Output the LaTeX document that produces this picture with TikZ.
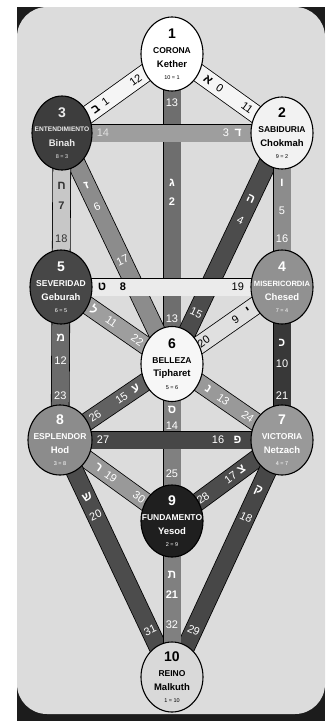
\documentclass[tikz,border=0pt]{standalone}
\usepackage{fontspec}
\setmainfont{Liberation Sans}
\newfontfamily\hebfont[Script=Hebrew]{Liberation Sans}
\usetikzlibrary{shapes.geometric}
\pgfdeclarelayer{back}\pgfdeclarelayer{bars}
\pgfsetlayers{back,bars,main}
\definecolor{pagebg}{HTML}{DCDCDC}
\definecolor{frame}{HTML}{1C1C1C}
\newcommand\fs[1]{\fontsize{#1}{#1}\selectfont}
\tikzset{
  sefira/.style={ellipse, draw=black, line width=1.1pt, inner sep=0pt, fill=#1},
  bar/.style={draw=black, line width=0.8pt, double=#1, double distance=17pt},
  bnum/.style={text=#1, font=\fs{11}, inner sep=0pt},
  bheb/.style={text=#1, font=\fs{12}\hebfont\bfseries, inner sep=0pt},
  snum/.style={text=#1, font=\fs{14}\bfseries, inner sep=0pt},
  stitle/.style={text=#1, font=\fs{8.5}\bfseries, inner sep=0pt},
  sname/.style={text=#1, font=\fs{9.5}\bfseries, inner sep=0pt},
  seq/.style={text=#1, font=\fs{5.5}, inner sep=0pt},
}
% \sefira{id}{position}{size options}{fill}{text}{num}{title}{name}{eq}
\newcommand\sefira[9]{%
  \node[sefira=#4, #3] (#1) at #2 {};
  \node[snum=#5] (#1-n) at ([yshift=20pt]#1.center) {#6};
  \node[stitle=#5] (#1-t) at ([yshift=3.5pt]#1.center) {#7};
  \node[sname=#5] (#1-h) at ([yshift=-10pt]#1.center) {#8};
  \node[seq=#5] (#1-e) at ([yshift=-24pt]#1.center) {#9};
}
\begin{document}
\begin{tikzpicture}[x=1pt,y=-1pt]
\useasboundingbox (0,0) rectangle (325,721);
\begin{pgfonlayer}{back}
  \fill[white] (0,0) rectangle (325,721);
  \fill[frame] (17,7) rectangle (325,721);
  \fill[pagebg, rounded corners=30pt] (17,7) rectangle (325,714);
\end{pgfonlayer}

\sefira{s1}{(172,54)}{minimum width=62pt, minimum height=74pt}{white}{black}{1}{CORONA}{Kether}{10 = 1}
\sefira{s2}{(282,133)}{minimum width=62pt, minimum height=72pt}{black!5}{black}{2}{SABIDURIA}{Chokmah}{9 = 2}
\sefira{s3}{(62,133)}{minimum width=60pt, minimum height=74pt}{black!76}{black!8}{3}{{\fs{6.6}ENTENDIMIENTO}}{Binah}{8 = 3}
\sefira{s4}{(282,287)}{minimum width=62pt, minimum height=74pt}{black!43}{white}{4}{{\fs{7.6}MISERICORDIA}}{Chesed}{7 = 4}
\sefira{s5}{(61,287)}{minimum width=62pt, minimum height=74pt}{black!72}{white}{5}{SEVERIDAD}{Geburah}{6 = 5}
\sefira{s6}{(172,364)}{minimum width=62pt, minimum height=75pt}{black!3}{black}{6}{BELLEZA}{Tipharet}{5 = 6}
\sefira{s7}{(282,440)}{minimum width=62pt, minimum height=70pt}{black!40}{white}{7}{VICTORIA}{Netzach}{4 = 7}
\sefira{s8}{(60,440)}{minimum width=64pt, minimum height=70pt}{black!45}{white}{8}{ESPLENDOR}{Hod}{3 = 8}
\sefira{s9}{(172,521)}{minimum width=62pt, minimum height=72pt}{black!88}{white}{9}{FUNDAMENTO}{Yesod}{2 = 9}
\sefira{s10}{(172,677)}{minimum width=62pt, minimum height=70pt}{black!15}{black}{10}{REINO}{Malkuth}{1 = 10}

\begin{pgfonlayer}{bars}
% diagonal and vertical paths
\draw[bar=black!57] (s1.center) -- (s6.center)
  node[bnum=white, pos=0.157] (p13a) {13}
  node[bheb=white, pos=0.415] (p13h) {ג}
  node[bnum=white, pos=0.475, font=\fs{11}\bfseries] (p13i) {2}
  node[bnum=white, pos=0.855] (p13b) {13};
\draw[bar=black!70] (s2.center) -- (s6.center)
  node[bheb=white, pos=0.284, rotate=-25] (p15h) {ה}
  node[bnum=white, pos=0.378, rotate=-25] (p15i) {4}
  node[bnum=white, pos=0.78, rotate=-25] (p15b) {15};
\draw[bar=black!45] (s2.center) -- (s4.center)
  node[bheb=white, pos=0.327] (p16h) {ו}
  node[bnum=white, pos=0.503] (p16i) {5}
  node[bnum=white, pos=0.686] (p16b) {16};
\draw[bar=black!45] (s3.center) -- (s6.center)
  node[bheb=white, pos=0.224, rotate=25] (p17h) {ז}
  node[bnum=white, pos=0.318, rotate=25] (p17i) {6}
  node[bnum=white, pos=0.55, rotate=25] (p17b) {17};
\draw[bar=black!22] (s3.center) -- (s5.center)
  node[bheb=black!80, pos=0.34] (p18h) {ח}
  node[bnum=black!80, pos=0.47, font=\fs{11}\bfseries] (p18i) {7}
  node[bnum=black!80, pos=0.686] (p18b) {18};
\draw[bar=black!12] (s4.center) -- (s6.center)
  node[bheb=black, pos=0.307, sloped] (p20h) {י}
  node[bnum=black, pos=0.423, sloped] (p20i) {9}
  node[bnum=black, pos=0.712, sloped] (p20b) {20};
\draw[bar=black!78] (s4.center) -- (s7.center)
  node[bheb=white, pos=0.364] (p21h) {כ}
  node[bnum=white, pos=0.5] (p21i) {10}
  node[bnum=white, pos=0.708] (p21b) {21};
\draw[bar=black!38] (s5.center) -- (s6.center)
  node[bheb=white, pos=0.299, sloped] (p22h) {ל}
  node[bnum=white, pos=0.454, sloped] (p22i) {11}
  node[bnum=white, pos=0.687, sloped] (p22b) {22};
\draw[bar=black!58] (s5.center) -- (s8.center)
  node[bheb=white, pos=0.331] (p23h) {מ}
  node[bnum=white, pos=0.48] (p23i) {12}
  node[bnum=white, pos=0.708] (p23b) {23};
\draw[bar=black!40] (s6.center) -- (s7.center)
  node[bheb=white, pos=0.33, sloped] (p24h) {נ}
  node[bnum=white, pos=0.466, sloped] (p24i) {13}
  node[bnum=white, pos=0.69, sloped] (p24b) {24};
\draw[bar=black!50] (s6.center) -- (s9.center)
  node[bheb=white, pos=0.29] (p25h) {ס}
  node[bnum=white, pos=0.395] (p25i) {14}
  node[bnum=white, pos=0.70] (p25b) {25};
\draw[bar=black!62] (s8.center) -- (s6.center)
  node[bnum=white, pos=0.312, sloped] (p26b) {26}
  node[bnum=white, pos=0.55, sloped] (p26i) {15}
  node[bheb=white, pos=0.676, sloped] (p26h) {ע};
\draw[bar=black!70] (s9.center) -- (s7.center)
  node[bnum=white, pos=0.283, sloped] (p28b) {28}
  node[bnum=white, pos=0.532, sloped] (p28i) {17}
  node[bheb=white, pos=0.631, sloped] (p28h) {צ};
\draw[bar=black!72] (s7.center) -- (s10.center)
  node[bheb=white, pos=0.215, rotate=-25] (p29h) {ק}
  node[bnum=white, pos=0.326, rotate=-25] (p29i) {18}
  node[bnum=white, pos=0.803, rotate=-25] (p29b) {29};
\draw[bar=black!40] (s8.center) -- (s9.center)
  node[bheb=white, pos=0.344, sloped] (p30h) {ר}
  node[bnum=white, pos=0.454, sloped] (p30i) {19}
  node[bnum=white, pos=0.706, sloped] (p30b) {30};
\draw[bar=black!70] (s8.center) -- (s10.center)
  node[bheb=white, pos=0.243, rotate=25] (p31h) {ש}
  node[bnum=white, pos=0.318, rotate=25] (p31i) {20}
  node[bnum=white, pos=0.804, rotate=25] (p31b) {31};
\draw[bar=black!50] (s9.center) -- (s10.center)
  node[bheb=white, pos=0.346] (p32h) {ת}
  node[bnum=white, pos=0.474, font=\fs{11}\bfseries] (p32i) {21}
  node[bnum=white, pos=0.667] (p32b) {32};
\draw[bar=black!4] (s1.center) -- (s2.center)
  node[bheb=black, pos=0.328, sloped] (p11h) {א}
  node[bnum=black, pos=0.435, sloped] (p11i) {0}
  node[bnum=black, pos=0.684, sloped] (p11b) {11};
\draw[bar=black!4] (s3.center) -- (s1.center)
  node[bheb=black, pos=0.306, sloped] (p12h) {ב}
  node[bnum=black, pos=0.395, sloped] (p12i) {1}
  node[bnum=black, pos=0.67, sloped] (p12b) {12};
% horizontal paths on top
\draw[bar=black!38] (s3.center) -- (s2.center)
  node[bnum=white!88!black, pos=0.186] (p14b) {14}
  node[bnum=white, pos=0.745] (p14i) {3}
  node[bheb=white, pos=0.8] (p14h) {ד};
\draw[bar=black!8] (s5.center) -- (s4.center)
  node[bheb=black, pos=0.186] (p19h) {ט}
  node[bnum=black, pos=0.28, font=\fs{11}\bfseries] (p19i) {8}
  node[bnum=black, pos=0.80] (p19b) {19};
\draw[bar=black!72] (s8.center) -- (s7.center)
  node[bnum=white, pos=0.194] (p27b) {27}
  node[bnum=white, pos=0.712] (p27i) {16}
  node[bheb=white, pos=0.80] (p27h) {פ};
\end{pgfonlayer}
\end{tikzpicture}
\end{document}
